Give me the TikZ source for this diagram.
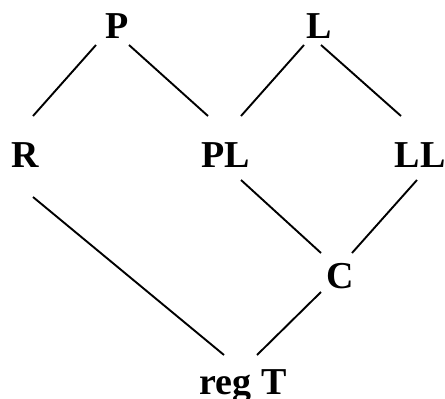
\documentclass[tikz,border=0pt]{standalone}
\usepackage{fontspec}
\setmainfont{Liberation Serif}
\begin{document}
\begin{tikzpicture}[x=1pt,y=-1pt,
  lbl/.style={font=\fontsize{38}{40}\selectfont\bfseries, inner sep=0pt, anchor=base},
  edge/.style={line width=1.9pt}]
\useasboundingbox (0,0) rectangle (445,399);
\node[lbl] (P) at (117,38) {P};
\node[lbl] (L) at (319,38) {L};
\node[lbl] (R) at (25,167) {R};
\node[lbl] (PL) at (226,167) {PL};
\node[lbl] (LL) at (420,167) {LL};
\node[lbl] (C) at (340,288) {C};
\node[lbl] (T) at (243,394) {reg T};
% connector ends
\coordinate (P1) at (96,45);  \coordinate (R1) at (33,116);
\coordinate (P2) at (129,45); \coordinate (PL1) at (208,116);
\coordinate (L1) at (304,45); \coordinate (PL2) at (241,116);
\coordinate (L2) at (321,45); \coordinate (LL1) at (401,116);
\coordinate (PL3) at (241,180); \coordinate (C1) at (321,253);
\coordinate (LL2) at (417,180); \coordinate (C2) at (352,253);
\coordinate (R2) at (33,197); \coordinate (T1) at (224,355);
\coordinate (C3) at (321,292); \coordinate (T2) at (257,355);
\draw[edge] (P1) -- (R1);
\draw[edge] (P2) -- (PL1);
\draw[edge] (L1) -- (PL2);
\draw[edge] (L2) -- (LL1);
\draw[edge] (PL3) -- (C1);
\draw[edge] (LL2) -- (C2);
\draw[edge] (R2) -- (T1);
\draw[edge] (C3) -- (T2);
\end{tikzpicture}
\end{document}
